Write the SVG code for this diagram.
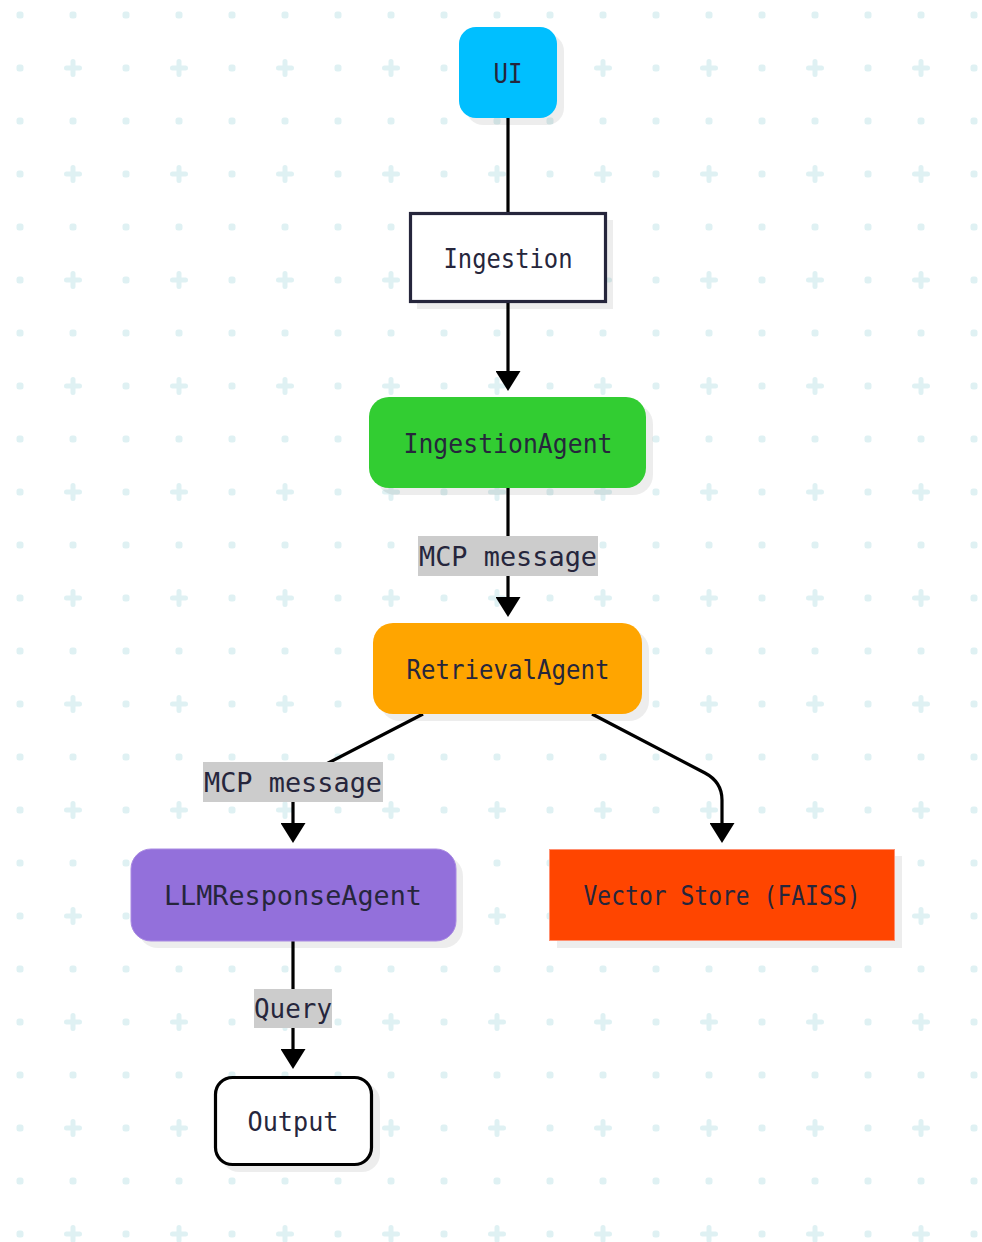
<svg xmlns="http://www.w3.org/2000/svg" width="982" height="1242" viewBox="0 0 982 1242">
  <style>
    .lbl { font-family: "DejaVu Sans Mono", "Liberation Mono", monospace; font-size: 27px; fill: #26263c; text-anchor: middle; }
    .shadow { fill: #000000; fill-opacity: 0.07; }
    .edge { fill: none; stroke: #000000; stroke-width: 3.2; }
    .lblbg { fill: #cccccc; }
  </style>
  <defs>
    <pattern id="grid" x="0" y="0" width="106" height="106" patternUnits="userSpaceOnUse">
      <rect x="16.5" y="11.5" width="7" height="7" rx="2.5" fill="#dff1f3"/>
      <rect x="69.5" y="11.5" width="7" height="7" rx="2.5" fill="#dff1f3"/>
      <rect x="16.5" y="64.5" width="7" height="7" rx="2.5" fill="#dff1f3"/>
      <path d="M66.5 68 H79.5 M73 61.5 V74.5" stroke="#dff1f3" stroke-width="5" stroke-linecap="round" fill="none"/>
    </pattern>
    <marker id="arrow" viewBox="0 0 20 25" refX="0" refY="12.5" markerWidth="20" markerHeight="25" markerUnits="userSpaceOnUse" orient="auto">
      <path d="M0 0 L20 12.5 L0 25 Z" fill="#000000"/>
    </marker>
  </defs>
  <rect x="0" y="0" width="982" height="1242" fill="#ffffff"/>
  <rect x="0" y="0" width="982" height="1242" fill="url(#grid)"/>

  <g id="connectors">
    <path class="edge" d="M508 118 V213"/>
    <path class="edge" d="M508 302 V371" marker-end="url(#arrow)"/>
    <path class="edge" d="M508 488 V597" marker-end="url(#arrow)"/>
    <path class="edge" d="M423 714 L303 776 Q293 781 293 792 V823" marker-end="url(#arrow)"/>
    <path class="edge" d="M592 714 L705 773 Q722 782 722 800 V823" marker-end="url(#arrow)"/>
    <path class="edge" d="M293 941 V1049" marker-end="url(#arrow)"/>
    <g id="edge-labels">
      <rect class="lblbg" x="418" y="536" width="180" height="40"/>
      <text class="lbl" x="508" y="566" textLength="178" lengthAdjust="spacingAndGlyphs">MCP message</text>
      <rect class="lblbg" x="203" y="762" width="180" height="40"/>
      <text class="lbl" x="293" y="792" textLength="178" lengthAdjust="spacingAndGlyphs">MCP message</text>
      <rect class="lblbg" x="254" y="989" width="78" height="39"/>
      <text class="lbl" x="293" y="1018" textLength="78" lengthAdjust="spacingAndGlyphs">Query</text>
    </g>
  </g>

  <g id="node-ui">
    <rect class="shadow" x="466" y="34" width="98" height="91" rx="17"/>
    <rect x="459" y="27" width="98" height="91" rx="17" fill="#00bfff"/>
    <text class="lbl" x="508" y="83" textLength="29" lengthAdjust="spacingAndGlyphs">UI</text>
  </g>

  <g id="node-ingestion">
    <rect class="shadow" x="417" y="220" width="196" height="89"/>
    <rect x="410.5" y="213.5" width="195" height="88" fill="#ffffff" stroke="#26263c" stroke-width="3.2"/>
    <text class="lbl" x="508" y="268" textLength="129" lengthAdjust="spacingAndGlyphs">Ingestion</text>
  </g>

  <g id="node-ingestionagent">
    <rect class="shadow" x="376" y="404" width="277" height="91" rx="20"/>
    <rect x="369" y="397" width="277" height="91" rx="20" fill="#32cd32"/>
    <text class="lbl" x="508" y="453" textLength="209" lengthAdjust="spacingAndGlyphs">IngestionAgent</text>
  </g>

  <g id="node-retrievalagent">
    <rect class="shadow" x="380" y="630" width="269" height="91" rx="20"/>
    <rect x="373" y="623" width="269" height="91" rx="20" fill="#ffa500"/>
    <text class="lbl" x="508" y="679" textLength="203" lengthAdjust="spacingAndGlyphs">RetrievalAgent</text>
  </g>

  <g id="node-llmresponseagent">
    <rect class="shadow" x="138" y="856" width="325" height="92" rx="20"/>
    <rect x="131" y="849" width="325" height="92" rx="20" fill="#9370db" stroke="#a98ae2" stroke-width="1"/>
    <text class="lbl" x="293" y="905" textLength="258" lengthAdjust="spacingAndGlyphs">LLMResponseAgent</text>
  </g>

  <g id="node-vectorstore">
    <rect class="shadow" x="557" y="856" width="345" height="92"/>
    <rect x="549.5" y="849.5" width="345" height="91" fill="#ff4500" stroke="#ff8f70" stroke-width="1"/>
    <text class="lbl" x="722" y="905" textLength="277" lengthAdjust="spacingAndGlyphs">Vector Store (FAISS)</text>
  </g>

  <g id="node-output">
    <rect class="shadow" x="221" y="1083" width="159" height="89" rx="18"/>
    <rect x="215.5" y="1077.5" width="156" height="87" rx="17" fill="#ffffff" stroke="#000000" stroke-width="3.2"/>
    <text class="lbl" x="293" y="1131" textLength="91" lengthAdjust="spacingAndGlyphs">Output</text>
  </g>
</svg>
